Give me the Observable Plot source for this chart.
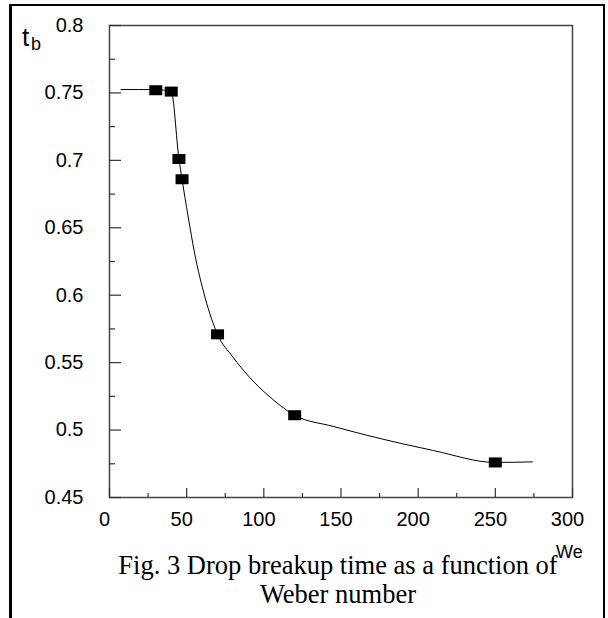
<!DOCTYPE html>
<html>
<head>
<meta charset="utf-8">
<script src="https://cdn.jsdelivr.net/npm/d3@7"></script>
<script src="https://cdn.jsdelivr.net/npm/@observablehq/plot@0.6"></script>
<style>
  html, body { margin: 0; padding: 0; background: #fff; overflow: hidden; }
  #page { position: relative; width: 608px; height: 618px; overflow: hidden; background: #fff; }
  #box { position: absolute; left: 9px; top: 4px; width: 591px; height: 700px;
         border-left: 3px solid #000; border-top: 2.5px solid #000; border-right: 2.5px solid #000; }
  #chart { position: absolute; left: 0; top: 0; }
  .lbl { position: absolute; font-family: "Liberation Sans", Arial, sans-serif; line-height: 1; white-space: nowrap; color: #000; }
  #caption { position: absolute; left: 38px; width: 600px; top: 550.5px; text-align: center;
             font-family: "Liberation Serif", "Times New Roman", serif; font-size: 26.5px; line-height: 29px; color: #000; white-space: nowrap; }
</style>
</head>
<body>
<div id="page">
  <div id="box"></div>
  <div id="chart"></div>
  <div class="lbl" style="left:22px; top:24px; font-size:26px;">t</div>
  <div class="lbl" style="left:31px; top:35px; font-size:18px;">b</div>
  <div class="lbl" style="left:556px; top:542.5px; font-size:18px;">We</div>
  <div id="caption">Fig. 3 Drop breakup time as a function of<br>Weber number</div>
</div>
<script>
// Measured points
const weber = [30, 40, 45, 47, 70, 120, 250];
const breakupTime = [0.752, 0.751, 0.701, 0.686, 0.571, 0.511, 0.476];

// Fitted curve
const curveWe = [7.5, 30, 40, 45, 47, 51, 55, 62, 70, 80, 91, 102, 120, 145, 167, 190, 210, 250, 274];
const curveTb = [0.7525, 0.7525, 0.751, 0.701, 0.686, 0.658, 0.632, 0.598, 0.571, 0.5541, 0.5388, 0.5265, 0.511, 0.5027, 0.4961, 0.4898, 0.4848, 0.476, 0.4764];

// Ticks
const xMajor = [0, 50, 100, 150, 200, 250, 300];
const xMinor = [25, 75, 125, 175, 225, 275];
const yMajor = [0.45, 0.5, 0.55, 0.6, 0.65, 0.7, 0.75, 0.8];
const yMinor = [0.475, 0.525, 0.575, 0.625, 0.675, 0.725, 0.775];

const points = weber.map((w, i) => ({We: w, tb: breakupTime[i]}));
const curve = curveWe.map((w, i) => ({We: w, tb: curveTb[i]}));

const width = 608, height = 540;
const mL = 109, mR = 36, mT = 25, mB = 43;
const plotW = width - mL - mR, plotH = height - mT - mB;

const rectSymbol = { draw(ctx) { ctx.rect(-6.5, -5, 13, 10); } };

const chart = Plot.plot({
  width, height,
  marginLeft: mL, marginRight: mR, marginTop: mT, marginBottom: mB,
  x: {domain: [0, 300]},
  y: {domain: [0.45, 0.8]},
  style: {fontFamily: "'Liberation Sans', Arial, sans-serif", background: "transparent", color: "#000"},
  marks: [
    Plot.frame({stroke: "#444", strokeWidth: 1.5}),
    Plot.tickY(yMajor, {y: d => d, insetRight: plotW - 12, stroke: "#333", strokeWidth: 1.2}),
    Plot.tickY(yMinor, {y: d => d, insetRight: plotW - 6, stroke: "#333", strokeWidth: 1.2}),
    Plot.tickX(xMajor, {x: d => d, insetTop: plotH - 9, stroke: "#333", strokeWidth: 1.2}),
    Plot.tickX(xMinor, {x: d => d, insetTop: plotH - 4, stroke: "#333", strokeWidth: 1.2}),
    Plot.axisX(xMajor, {tickSize: 0, tickPadding: 14, fontSize: 20, dx: -5, label: null, tickFormat: d => String(d)}),
    Plot.axisY(yMajor, {tickSize: 0, tickPadding: 26, fontSize: 20, label: null, tickFormat: d => String(+d.toFixed(3))}),
    Plot.line(curve, {x: "We", y: "tb", curve: "monotone-x", stroke: "#000", strokeWidth: 1}),
    Plot.dot(points, {x: "We", y: "tb", symbol: rectSymbol, fill: "#000", stroke: "none"})
  ]
});
document.getElementById("chart").appendChild(chart);
</script>
</body>
</html>
